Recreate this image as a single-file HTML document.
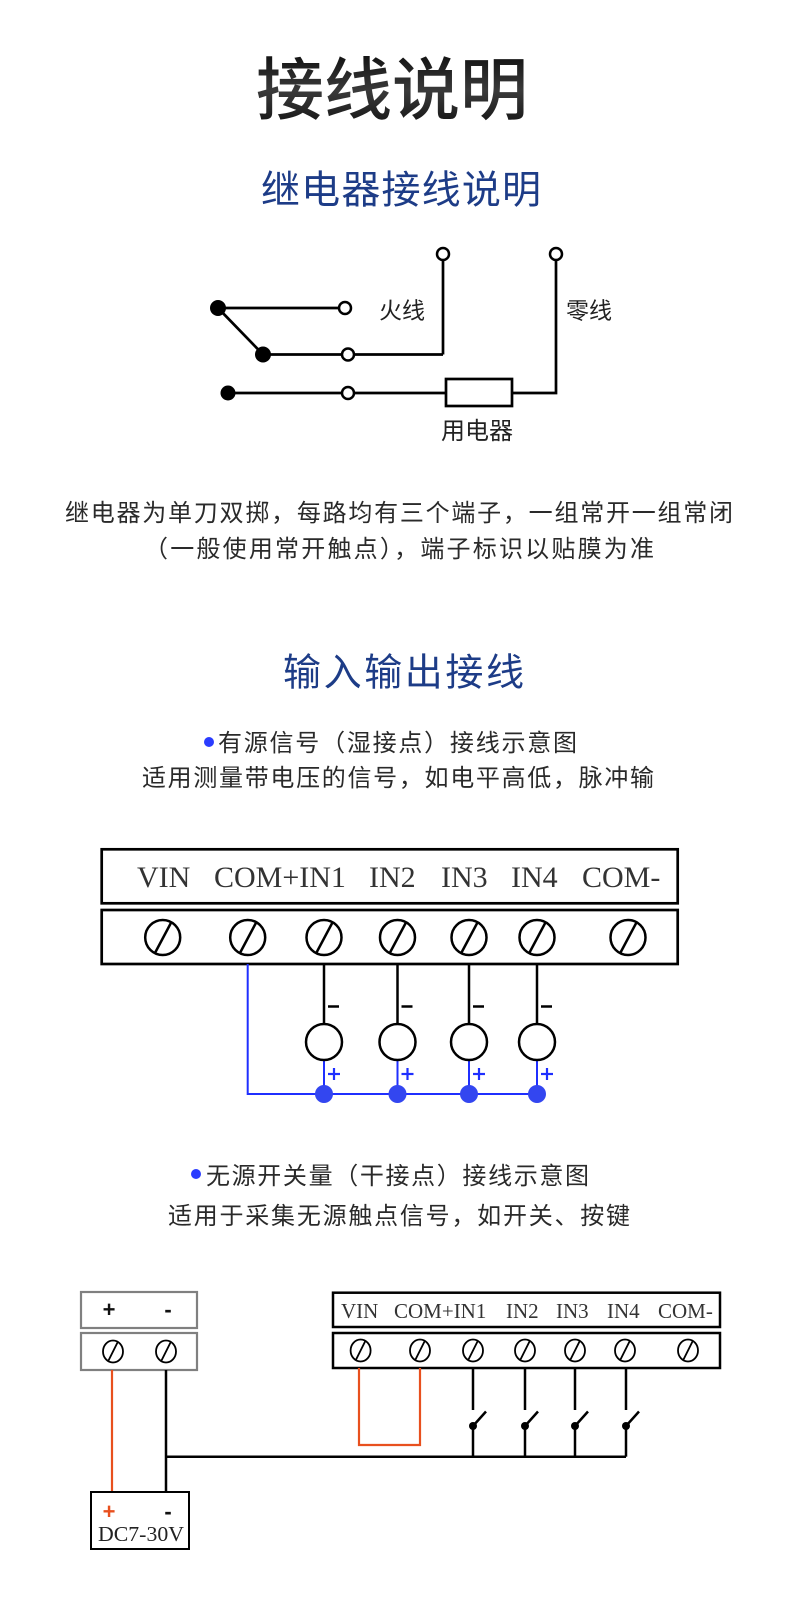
<!DOCTYPE html>
<html>
<head>
<meta charset="utf-8">
<style>
html,body{margin:0;padding:0;background:#fff;}
svg{display:block;}
.cjk{font-family:"Liberation Sans","Noto Sans CJK SC",sans-serif;}
.serif{font-family:"Liberation Serif",serif;}
</style>
</head>
<body>
<svg width="798" height="1620" viewBox="0 0 798 1620" xmlns="http://www.w3.org/2000/svg">
<defs>
<linearGradient id="tg" x1="0" y1="0" x2="0" y2="1">
<stop offset="0" stop-color="#111"/>
<stop offset="0.5" stop-color="#3a3a3a"/>
<stop offset="1" stop-color="#111"/>
</linearGradient>
</defs>
<rect width="798" height="1620" fill="#fff"/>

<!-- Titles -->
<text class="cjk" x="256" y="114" font-size="68" font-weight="500" fill="url(#tg)" textLength="272" lengthAdjust="spacing">接线说明</text>
<text class="cjk" x="261" y="203.5" font-size="39" fill="#1d3c87" textLength="280" lengthAdjust="spacing">继电器接线说明</text>

<!-- Relay diagram -->
<g stroke="#000" stroke-width="2.7" fill="none">
<line x1="218" y1="308" x2="345" y2="308"/>
<line x1="218" y1="308" x2="263" y2="354.5"/>
<line x1="263" y1="354.5" x2="443" y2="354.5"/>
<line x1="443" y1="354.5" x2="443" y2="254"/>
<line x1="228" y1="393" x2="446" y2="393"/>
<rect x="446" y="379" width="66" height="27" fill="#fff"/>
<polyline points="512,393 556,393 556,254"/>
</g>
<g fill="#000">
<circle cx="218" cy="308" r="8"/>
<circle cx="263" cy="354.5" r="8"/>
<circle cx="228" cy="393" r="7.5"/>
</g>
<g stroke="#000" stroke-width="2.5" fill="#fff">
<circle cx="443" cy="254" r="6"/>
<circle cx="556" cy="254" r="6"/>
<circle cx="345" cy="308" r="6"/>
<circle cx="348" cy="354.5" r="6"/>
<circle cx="348" cy="393" r="6"/>
</g>
<text class="cjk" x="379" y="318.5" font-size="23" fill="#222">火线</text>
<text class="cjk" x="566" y="318.5" font-size="23" fill="#222">零线</text>
<text class="cjk" x="441" y="439" font-size="24" fill="#222">用电器</text>

<!-- Paragraph -->
<text class="cjk" x="65" y="521" font-size="24" fill="#2a2a2a" textLength="668" lengthAdjust="spacing">继电器为单刀双掷，每路均有三个端子，一组常开一组常闭</text>
<text class="cjk" x="144" y="557" font-size="24" fill="#2a2a2a" textLength="510" lengthAdjust="spacing">（一般使用常开触点），端子标识以贴膜为准</text>

<!-- Input/Output title -->
<text class="cjk" x="283" y="685.5" font-size="38" fill="#1d3c87" textLength="241" lengthAdjust="spacing">输入输出接线</text>

<circle cx="209" cy="742" r="5" fill="#2a3cff"/>
<text class="cjk" x="218" y="751" font-size="24" fill="#2a2a2a" textLength="359" lengthAdjust="spacing">有源信号（湿接点）接线示意图</text>
<text class="cjk" x="142" y="786" font-size="24" fill="#2a2a2a" textLength="512" lengthAdjust="spacing">适用测量带电压的信号，如电平高低，脉冲输</text>

<!-- Diagram 2 -->
<g stroke="#000" stroke-width="2.7" fill="none">
<rect x="101.7" y="849.3" width="576" height="54"/>
<rect x="101.7" y="910" width="576" height="54"/>
</g>
<g class="serif" font-size="30" fill="#333">
<text x="137" y="887">VIN</text>
<text x="214" y="887">COM+IN1</text>
<text x="369" y="887">IN2</text>
<text x="441" y="887">IN3</text>
<text x="511" y="887">IN4</text>
<text x="582" y="887">COM-</text>
</g>
<g stroke="#000" stroke-width="2.5" fill="none">
<circle cx="162.7" cy="937.5" r="17.5"/><line x1="171.7" y1="921.5" x2="154.7" y2="953.5"/>
<circle cx="247.7" cy="937.5" r="17.5"/><line x1="256.7" y1="921.5" x2="239.7" y2="953.5"/>
<circle cx="324" cy="937.5" r="17.5"/><line x1="333" y1="921.5" x2="316" y2="953.5"/>
<circle cx="397.5" cy="937.5" r="17.5"/><line x1="406.5" y1="921.5" x2="389.5" y2="953.5"/>
<circle cx="469" cy="937.5" r="17.5"/><line x1="478" y1="921.5" x2="461" y2="953.5"/>
<circle cx="537" cy="937.5" r="17.5"/><line x1="546" y1="921.5" x2="529" y2="953.5"/>
<circle cx="628" cy="937.5" r="17.5"/><line x1="637" y1="921.5" x2="620" y2="953.5"/>
</g>
<!-- blue wiring -->
<g stroke="#1f2fff" stroke-width="2" fill="none">
<polyline points="247.7,964 247.7,1094 537,1094"/>
<line x1="324" y1="1060" x2="324" y2="1094"/>
<line x1="397.5" y1="1060" x2="397.5" y2="1094"/>
<line x1="469" y1="1060" x2="469" y2="1094"/>
<line x1="537" y1="1060" x2="537" y2="1094"/>
</g>
<g fill="#3346f0">
<circle cx="324" cy="1094" r="9"/>
<circle cx="397.5" cy="1094" r="9"/>
<circle cx="469" cy="1094" r="9"/>
<circle cx="537" cy="1094" r="9"/>
</g>
<g stroke="#000" stroke-width="2.5" fill="#fff">
<line x1="324" y1="964" x2="324" y2="1024"/>
<line x1="397.5" y1="964" x2="397.5" y2="1024"/>
<line x1="469" y1="964" x2="469" y2="1024"/>
<line x1="537" y1="964" x2="537" y2="1024"/>
<circle cx="324" cy="1042" r="18"/>
<circle cx="397.5" cy="1042" r="18"/>
<circle cx="469" cy="1042" r="18"/>
<circle cx="537" cy="1042" r="18"/>
<line x1="328" y1="1006.5" x2="339" y2="1006.5"/>
<line x1="401.5" y1="1006.5" x2="412.5" y2="1006.5"/>
<line x1="473" y1="1006.5" x2="484" y2="1006.5"/>
<line x1="541" y1="1006.5" x2="552" y2="1006.5"/>
</g>
<g stroke="#1f2fff" stroke-width="2.2">
<line x1="328" y1="1074" x2="340" y2="1074"/><line x1="334" y1="1068" x2="334" y2="1080"/>
<line x1="401.5" y1="1074" x2="413.5" y2="1074"/><line x1="407.5" y1="1068" x2="407.5" y2="1080"/>
<line x1="473" y1="1074" x2="485" y2="1074"/><line x1="479" y1="1068" x2="479" y2="1080"/>
<line x1="541" y1="1074" x2="553" y2="1074"/><line x1="547" y1="1068" x2="547" y2="1080"/>
</g>

<!-- Bullet 2 -->
<circle cx="196" cy="1174" r="5" fill="#2a3cff"/>
<text class="cjk" x="206" y="1184" font-size="24" fill="#2a2a2a" textLength="383" lengthAdjust="spacing">无源开关量（干接点）接线示意图</text>
<text class="cjk" x="168" y="1224" font-size="24" fill="#2a2a2a" textLength="462" lengthAdjust="spacing">适用于采集无源触点信号，如开关、按键</text>

<!-- Diagram 3 -->
<g stroke="#808080" stroke-width="2.2" fill="none">
<rect x="81" y="1292" width="116" height="36"/>
<rect x="81" y="1333" width="116" height="37"/>
</g>
<text x="109" y="1317" font-family="Liberation Sans, sans-serif" font-weight="bold" font-size="22" fill="#111" text-anchor="middle">+</text>
<text x="168" y="1317" font-family="Liberation Sans, sans-serif" font-weight="bold" font-size="22" fill="#111" text-anchor="middle">-</text>
<g stroke="#000" stroke-width="1.8" fill="none">
<ellipse cx="113" cy="1351.5" rx="10" ry="11"/><line x1="118" y1="1341.5" x2="108" y2="1361.5"/>
<ellipse cx="166" cy="1351.5" rx="10" ry="11"/><line x1="171" y1="1341.5" x2="161" y2="1361.5"/>
</g>

<g stroke="#000" stroke-width="2.5" fill="none">
<rect x="333" y="1292.7" width="387" height="34.3"/>
<rect x="333" y="1333" width="387" height="35"/>
</g>
<g class="serif" font-size="21" fill="#333">
<text x="341" y="1318">VIN</text>
<text x="394" y="1318">COM+IN1</text>
<text x="506" y="1318">IN2</text>
<text x="556" y="1318">IN3</text>
<text x="607" y="1318">IN4</text>
<text x="658" y="1318">COM-</text>
</g>
<g stroke="#000" stroke-width="1.8" fill="none">
<ellipse cx="360.6" cy="1350.5" rx="10" ry="11"/><line x1="365.6" y1="1340.5" x2="355.6" y2="1360.5"/>
<ellipse cx="420" cy="1350.5" rx="10" ry="11"/><line x1="425" y1="1340.5" x2="415" y2="1360.5"/>
<ellipse cx="473" cy="1350.5" rx="10" ry="11"/><line x1="478" y1="1340.5" x2="468" y2="1360.5"/>
<ellipse cx="525" cy="1350.5" rx="10" ry="11"/><line x1="530" y1="1340.5" x2="520" y2="1360.5"/>
<ellipse cx="575" cy="1350.5" rx="10" ry="11"/><line x1="580" y1="1340.5" x2="570" y2="1360.5"/>
<ellipse cx="625" cy="1350.5" rx="10" ry="11"/><line x1="630" y1="1340.5" x2="620" y2="1360.5"/>
<ellipse cx="688" cy="1350.5" rx="10" ry="11"/><line x1="693" y1="1340.5" x2="683" y2="1360.5"/>
</g>

<!-- red wiring -->
<g stroke="#e8501e" stroke-width="2.2" fill="none">
<polyline points="359,1368 359,1445 420,1445 420,1368"/>
<line x1="112" y1="1370" x2="112" y2="1492"/>
</g>

<!-- black wiring and switches -->
<g stroke="#000" stroke-width="2.5" fill="none">
<line x1="166" y1="1370" x2="166" y2="1492"/>
<line x1="166" y1="1456.7" x2="626" y2="1456.7"/>
<line x1="473" y1="1368" x2="473" y2="1410"/>
<line x1="473" y1="1426" x2="473" y2="1456.7"/>
<line x1="473" y1="1426" x2="486" y2="1411.5"/>
<line x1="525" y1="1368" x2="525" y2="1410"/>
<line x1="525" y1="1426" x2="525" y2="1456.7"/>
<line x1="525" y1="1426" x2="538" y2="1411.5"/>
<line x1="575" y1="1368" x2="575" y2="1410"/>
<line x1="575" y1="1426" x2="575" y2="1456.7"/>
<line x1="575" y1="1426" x2="588" y2="1411.5"/>
<line x1="626" y1="1368" x2="626" y2="1410"/>
<line x1="626" y1="1426" x2="626" y2="1456.7"/>
<line x1="626" y1="1426" x2="639" y2="1411.5"/>
</g>
<g fill="#000">
<circle cx="473" cy="1426" r="4"/>
<circle cx="525" cy="1426" r="4"/>
<circle cx="575" cy="1426" r="4"/>
<circle cx="626" cy="1426" r="4"/>
</g>

<!-- DC box -->
<rect x="91" y="1492" width="98" height="57" fill="#fff" stroke="#000" stroke-width="2"/>
<text x="109" y="1519" font-family="Liberation Sans, sans-serif" font-weight="bold" font-size="22" fill="#e8501e" text-anchor="middle">+</text>
<text x="168" y="1519" font-family="Liberation Sans, sans-serif" font-weight="bold" font-size="22" fill="#111" text-anchor="middle">-</text>
<text class="serif" x="98" y="1541" font-size="21" fill="#222" textLength="86" lengthAdjust="spacingAndGlyphs">DC7-30V</text>
</svg>
</body>
</html>
